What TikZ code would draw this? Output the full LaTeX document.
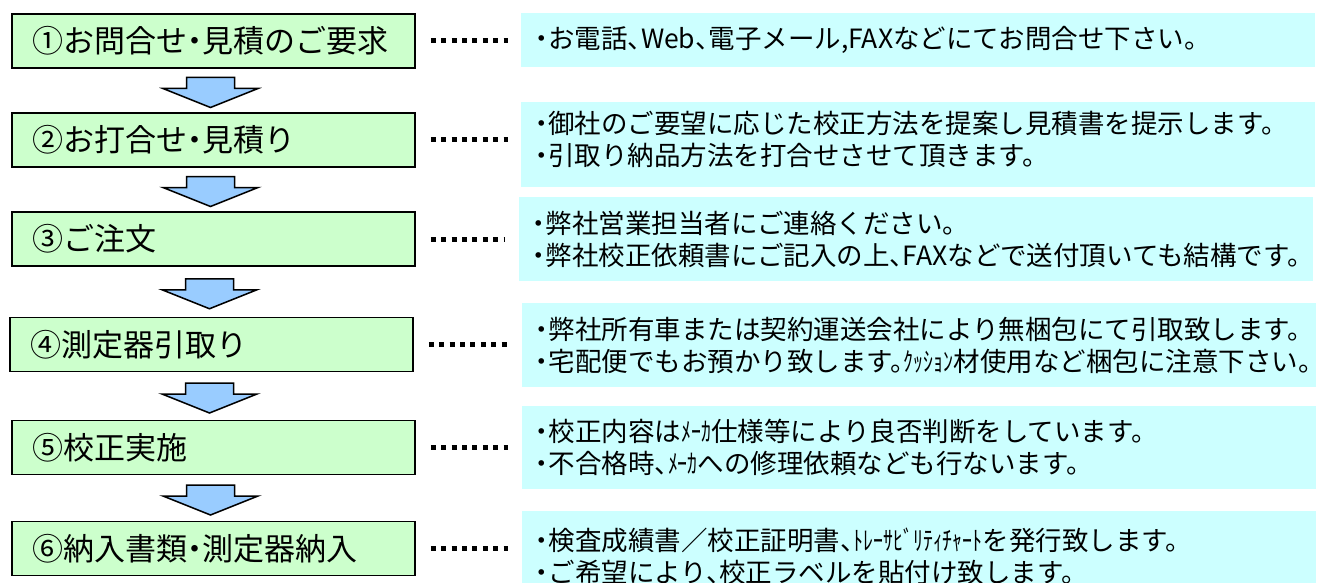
\documentclass[tikz,border=0pt]{standalone}
\usepackage{fontspec}
\setmainfont{Noto Sans CJK JP}[RawFeature=+halt]
\usetikzlibrary{calc}
\definecolor{stepgreen}{HTML}{CCFFCC}
\definecolor{notecyan}{HTML}{CCFFFF}
\definecolor{arrowblue}{HTML}{99CCFF}
\newcommand\hwk[1]{\scalebox{0.75}[1]{#1}}
\begin{document}
\begin{tikzpicture}[x=1pt,y=-1pt,
 stepbox/.style={draw=black, line width=1.6pt, fill=stepgreen, minimum width=403pt, minimum height=54pt,
   text width=363pt, inner xsep=20pt, inner ysep=0pt, align=left, font=\fontsize{31}{34}\selectfont},
 notebox/.style={fill=notecyan, minimum width=794pt, text width=766pt, inner xsep=14pt, inner ysep=0pt,
   align=left, font=\fontsize{26.5}{32}\selectfont},
 dotline/.style={line width=5pt, dash pattern=on 5pt off 5.4pt, shorten <=15pt, shorten >=13pt},
 barrow/.style={draw=black, line width=1.5pt, fill=arrowblue, line join=miter}]
\clip (0,0) rectangle (1325,583);
\fill[white] (0,0) rectangle (1325,583);

\node[stepbox] (L1) at (213.5,41) {①お問合せ・見積のご要求};
\node[stepbox] (L2) at (213.5,140) {②お打合せ・見積り};
\node[stepbox] (L3) at (213.5,239) {③ご注文};
\node[stepbox] (L4) at (211.5,344.5) {④測定器引取り};
\node[stepbox] (L5) at (213.5,447.5) {⑤校正実施};
\node[stepbox] (L6) at (213.5,548.5) {⑥納入書類・測定器納入};

\node[notebox, minimum height=54pt] (R1) at (918,40) {・お電話、Web、電子メール,FAXなどにてお問合せ下さい。};
\node[notebox, minimum height=85pt] (R2) at (918,144.5) {・御社のご要望に応じた校正方法を提案し見積書を提示します。\\・引取り納品方法を打合せさせて頂きます。\rule[-12pt]{0pt}{12pt}};
\node[notebox, minimum height=84pt] (R3) at (915.5,239) {・弊社営業担当者にご連絡ください。\\・弊社校正依頼書にご記入の上、FAXなどで送付頂いても結構です。};
\node[notebox, minimum height=84pt] (R4) at (918.5,345) {・弊社所有車または契約運送会社により無梱包にて引取致します。\\・宅配便でもお預かり致します。\hwk{ｸｯｼｮﾝ}材使用など梱包に注意下さい。};
\node[notebox, minimum height=83pt] (R5) at (918.5,447.5) {・校正内容は\hwk{ﾒｰｶ}仕様等により良否判断をしています。\\・不合格時、\hwk{ﾒｰｶ}への修理依頼なども行ないます。};
\node[notebox, minimum height=90pt] (R6) at (918.5,556) {・検査成績書／校正証明書、\hwk{ﾄﾚｰｻﾋﾞﾘﾃｨﾁｬｰﾄ}を発行致します。\\・ご希望により、校正ラベルを貼付け致します。};

\foreach \i in {1,...,6}
  \draw[dotline] (L\i.east) -- (L\i.east -| R\i.west);

\foreach \a/\b [count=\i] in {L1/L2,L2/L3,L3/L4,L4/L5,L5/L6}{
  \coordinate (A\i) at ($(\a.south)!0.5!(\b.north)+(-3,2)$);
  \draw[barrow] ([shift={(-24,-15)}]A\i) -- ([shift={(24,-15)}]A\i) -- ([shift={(24,-4)}]A\i)
    -- ([shift={(47.5,-4)}]A\i) -- ([shift={(0,15)}]A\i) -- ([shift={(-47.5,-4)}]A\i)
    -- ([shift={(-24,-4)}]A\i) -- cycle;
}
\end{tikzpicture}
\end{document}
